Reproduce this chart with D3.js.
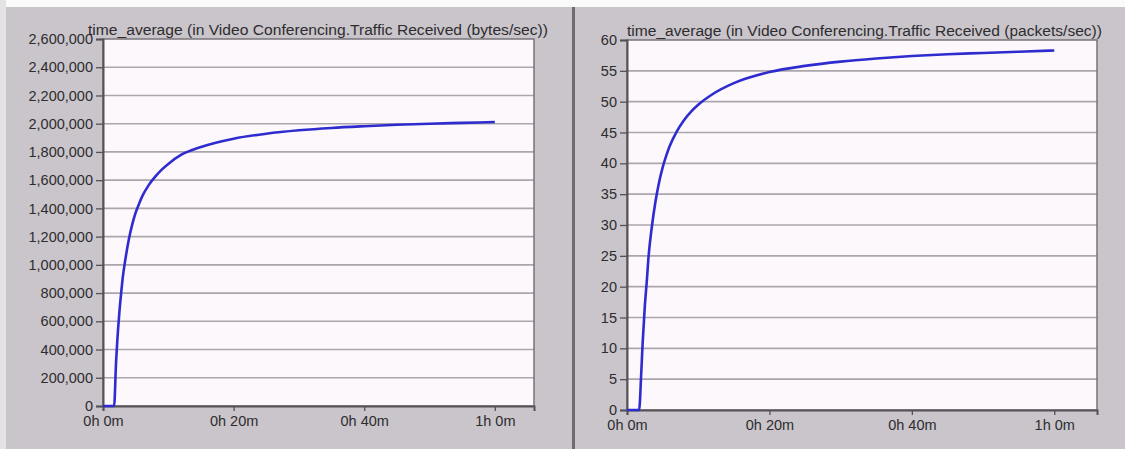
<!DOCTYPE html>
<html><head><meta charset="utf-8">
<script src="https://cdn.jsdelivr.net/npm/d3@7"></script>
<style>html,body{margin:0;padding:0;background:#fff;}svg{display:block;}</style>
</head><body>
<svg id="chart" width="1125" height="449"></svg>
<script>
// ---- data (time in minutes) ----
const timesMin = [0, 1.7, 2, 2.2, 2.5, 2.8, 3, 3.5, 4, 4.5, 5, 5.5, 6, 7, 8, 9, 10, 12, 15, 20, 25, 30, 35, 40, 45, 50, 55, 60];
const bytesPerSec = [0, 0, 310000, 470000, 660000, 810000, 900000, 1060000, 1190000, 1290000, 1370000, 1430000, 1485000, 1565000, 1625000, 1675000, 1715000, 1780000, 1835000, 1894000, 1929000, 1953000, 1970000, 1982000, 1992000, 2000000, 2006000, 2012000];
const packetsPerSec = [0, 0, 6.0, 10.9, 16.8, 21.2, 24.5, 29.8, 33.8, 36.9, 39.3, 41.2, 42.8, 45.2, 47.0, 48.4, 49.5, 51.2, 53.0, 54.8, 55.8, 56.5, 57.0, 57.4, 57.7, 57.9, 58.1, 58.3];
const xTickValues = [0, 20, 40, 60];
const xTickLabels = ["0h 0m", "0h 20m", "0h 40m", "1h 0m"];
const bytesTicks = d3.range(0, 2600001, 200000);
const packetTicks = d3.range(0, 61, 5);
const titles = ["time_average (in Video Conferencing.Traffic Received (bytes/sec))",
                "time_average (in Video Conferencing.Traffic Received (packets/sec))"];

const svg = d3.select("#chart");
const FONT = "'Liberation Sans', Arial, sans-serif";
svg.append("rect").attr("width",1125).attr("height",449).attr("fill","#c9c5ca");
svg.append("rect").attr("width",1125).attr("height",7).attr("fill","#fbfafb");
svg.append("rect").attr("width",6).attr("height",449).attr("fill","#e6e3e6");
svg.append("rect").attr("x",572).attr("y",7).attr("width",3).attr("height",442).attr("fill","#6e6c6f");

function panel(cfg){
  const x = d3.scaleLinear().domain([0,66]).range([cfg.x0, cfg.x1]);
  const y = d3.scaleLinear().domain([0, cfg.ymax]).range([cfg.y1, cfg.y0]);
  const g = svg.append("g");
  g.append("rect").attr("x",cfg.x0).attr("y",cfg.y0).attr("width",cfg.x1-cfg.x0).attr("height",cfg.y1-cfg.y0)
    .attr("fill","#fcf8fc");
  g.selectAll("line.grid").data(cfg.ticks.filter(d=>d>0 && d<cfg.ymax)).join("line")
    .attr("x1",cfg.x0).attr("x2",cfg.x1).attr("y1",d=>y(d)).attr("y2",d=>y(d))
    .attr("stroke","#aaa6ab").attr("stroke-width",1.6);
  g.append("rect").attr("x",cfg.x0).attr("y",cfg.y0).attr("width",cfg.x1-cfg.x0).attr("height",cfg.y1-cfg.y0)
    .attr("fill","none").attr("stroke","#77737a").attr("stroke-width",1.5);
  const ya = g.append("g").attr("transform",`translate(${cfg.x0},0)`)
    .call(d3.axisLeft(y).tickValues(cfg.ticks).tickSize(7).tickPadding(3).tickFormat(cfg.fmt));
  const xa = g.append("g").attr("transform",`translate(0,${cfg.y1})`)
    .call(d3.axisBottom(x).tickValues(xTickValues).tickSize(5).tickPadding(5)
      .tickFormat((d,i)=>xTickLabels[i]));
  [ya,xa].forEach(a=>{
    a.select(".domain").attr("stroke","#555157").attr("stroke-width",2);
    a.selectAll(".tick line").attr("stroke","#555157").attr("stroke-width",1.3);
    a.selectAll("text").attr("fill","#2e2c2f").attr("font-family",FONT).attr("font-size",14.5);
  });
  g.append("path").datum(timesMin.map((t,i)=>[t, cfg.values[i]]))
    .attr("fill","none").attr("stroke","#2e2ccf").attr("stroke-width",2.6)
    .attr("stroke-linejoin","round")
    .attr("d", d3.line().x(d=>x(d[0])).y(d=>y(d[1])).curve(d3.curveMonotoneX));
  g.append("text").attr("x",cfg.tx).attr("y",cfg.y0-4).attr("font-family",FONT).attr("font-size",14)
    .attr("fill","#2e2c2f").attr("textLength",cfg.tw).attr("lengthAdjust","spacingAndGlyphs")
    .text(cfg.title);
}

panel({x0:103, x1:534, y0:39, y1:406, ymax:2600000, ticks:bytesTicks, values:bytesPerSec,
  fmt:d3.format(","), title:titles[0], tx:88, tw:460});
panel({x0:627, x1:1097, y0:40, y1:410, ymax:60, ticks:packetTicks, values:packetsPerSec,
  fmt:d3.format("d"), title:titles[1], tx:627, tw:475});
</script>
</body></html>
